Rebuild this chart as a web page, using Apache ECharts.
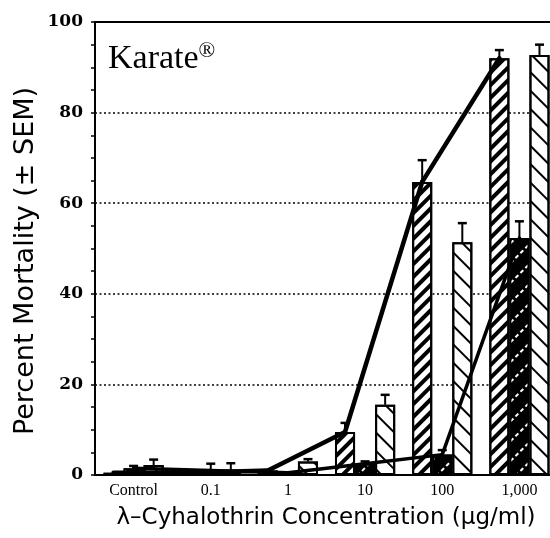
<!DOCTYPE html>
<html>
<head>
<meta charset="utf-8">
<script src="https://cdn.jsdelivr.net/npm/echarts@6/dist/echarts.min.js"></script>
<style>
  html, body { margin: 0; padding: 0; background: #fff; }
  #main { width: 550px; height: 538px; }
</style>
</head>
<body>
<div id="main"></div>
<script>
// concentrations (ug/ml)
var categories = ['Control', '0.1', '1', '10', '100', '1,000'];

// series A: wide "//" hatch, joined by the heavy line
var valsA = [0.5, 0.5, 1, 9.5, 64.7, 92];
var errA  = [0, 0, 0, 2, 4.8, 1.8];
// series B: solid black with white dashes
var valsB = [1.5, 1, 0.5, 2.5, 4.5, 52.3];
var errB  = [0.5, 1.5, 0, 0.5, 1, 3.7];
// series C: thin "\\" hatch
var valsC = [2.2, 1, 3, 15.5, 51.4, 92.7];
var errC  = [1.2, 1.6, 0.5, 2.2, 4.2, 2.3];

var yTicks = [0, 20, 40, 60, 80, 100];

var BAR = 0.26; // bar width as share of the category band

var myChart = echarts.init(document.getElementById('main'));

function pairs(vals) {
  return vals.map(function (v, i) { return [i, v]; });
}

// error whisker above a bar
function errRender(vals, errs, off) {
  return function (params, api) {
    var i = params.dataIndex;
    if (!errs[i]) return;
    var band = api.size([1, 0])[0];
    var p0 = api.coord([i, vals[i]]);
    var p1 = api.coord([i, vals[i] + errs[i]]);
    var x = p0[0] + off * band;
    return {
      type: 'group',
      children: [
        { type: 'line', shape: { x1: x, y1: p0[1], x2: x, y2: p1[1] }, style: { stroke: '#000', lineWidth: 2 } },
        { type: 'line', shape: { x1: x - 4.5, y1: p1[1], x2: x + 4.5, y2: p1[1] }, style: { stroke: '#000', lineWidth: 2.5 } }
      ]
    };
  };
}

// line joining the bar tops of one series
function segRender(vals, off, w) {
  return function (params, api) {
    var i = params.dataIndex;
    if (i >= vals.length - 1) return;
    var band = api.size([1, 0])[0];
    var a = api.coord([i, vals[i]]);
    var b = api.coord([i + 1, vals[i + 1]]);
    return {
      type: 'line',
      shape: { x1: a[0] + off * band, y1: a[1], x2: b[0] + off * band, y2: b[1] },
      style: { stroke: '#000', lineWidth: w, lineCap: 'round' }
    };
  };
}

var option = {
  animation: false,
  grid: {
    left: 95, top: 22, width: 463, height: 453,
    outerBoundsMode: 'none',
    show: true, borderColor: '#000', borderWidth: 2
  },
  xAxis: {
    type: 'category',
    data: categories,
    axisLine: { lineStyle: { color: '#000', width: 2 } },
    axisTick: { length: 5, lineStyle: { color: '#000', width: 1.5 } },
    axisLabel: { color: '#000', fontFamily: 'Liberation Serif', fontSize: 16, margin: 8 }
  },
  yAxis: {
    type: 'value',
    min: yTicks[0],
    max: yTicks[yTicks.length - 1],
    interval: 20,
    axisLine: { show: true, lineStyle: { color: '#000', width: 2 } },
    axisTick: { show: true, length: 4, lineStyle: { color: '#000', width: 1.5 } },
    minorTick: { show: true, splitNumber: 4, length: 4, lineStyle: { color: '#000', width: 1.5 } },
    axisLabel: { color: '#000', fontFamily: 'DejaVu Serif', fontWeight: 'bold', fontSize: 17, margin: 12 },
    splitLine: { show: true, lineStyle: { color: '#000', type: [2, 2.5], width: 1.5 } }
  },
  graphic: [
    {
      type: 'text', left: 108, top: 40,
      style: {
        text: '{a|Karate}{b|®}',
        rich: {
          a: { fontFamily: 'Liberation Serif', fontSize: 34, fill: '#000' },
          b: { fontFamily: 'Liberation Serif', fontSize: 22, fill: '#000', padding: [0, 0, 16, 0] }
        }
      }
    },
    {
      type: 'text', x: 26, y: 261, rotation: Math.PI / 2,
      style: {
        text: 'Percent Mortality (± SEM)', fill: '#000',
        fontFamily: 'DejaVu Sans', fontSize: 27, align: 'center', verticalAlign: 'middle'
      }
    },
    {
      type: 'text', x: 326, y: 518,
      style: {
        text: 'λ–Cyhalothrin Concentration (µg/ml)', fill: '#000',
        fontFamily: 'DejaVu Sans', fontSize: 23, align: 'center', verticalAlign: 'middle'
      }
    }
  ],
  series: [
    {
      type: 'bar', data: valsA, barWidth: (BAR * 100) + '%', barGap: '0%', z: 2,
      itemStyle: {
        color: '#fff', borderColor: '#000', borderWidth: 2,
        decal: { symbol: 'rect', symbolSize: 1, color: '#000', dashArrayX: [1, 0], dashArrayY: [4, 5], rotation: -Math.PI / 4 }
      }
    },
    {
      type: 'bar', data: valsB, barWidth: (BAR * 100) + '%', barGap: '0%', z: 2,
      itemStyle: {
        color: '#000', borderColor: '#000', borderWidth: 2,
        decal: { symbol: 'rect', symbolSize: 1, color: '#fff', dashArrayX: [4, 3], dashArrayY: [1.5, 12], rotation: -Math.PI / 4 }
      }
    },
    {
      type: 'bar', data: valsC, barWidth: (BAR * 100) + '%', barGap: '0%', z: 2,
      itemStyle: {
        color: '#fff', borderColor: '#000', borderWidth: 2,
        decal: { symbol: 'rect', symbolSize: 1, color: '#000', dashArrayX: [1, 0], dashArrayY: [2, 11], rotation: Math.PI / 4 }
      }
    },
    { type: 'custom', data: pairs(valsA), z: 5, renderItem: errRender(valsA, errA, -BAR) },
    { type: 'custom', data: pairs(valsB), z: 5, renderItem: errRender(valsB, errB, 0) },
    { type: 'custom', data: pairs(valsC), z: 5, renderItem: errRender(valsC, errC, BAR) },
    { type: 'custom', data: pairs(valsA), z: 6, renderItem: segRender(valsA, -BAR, 4.5) },
    { type: 'custom', data: pairs(valsB), z: 6, renderItem: segRender(valsB, 0, 3.5) }
  ]
};

myChart.setOption(option);
</script>
</body>
</html>
